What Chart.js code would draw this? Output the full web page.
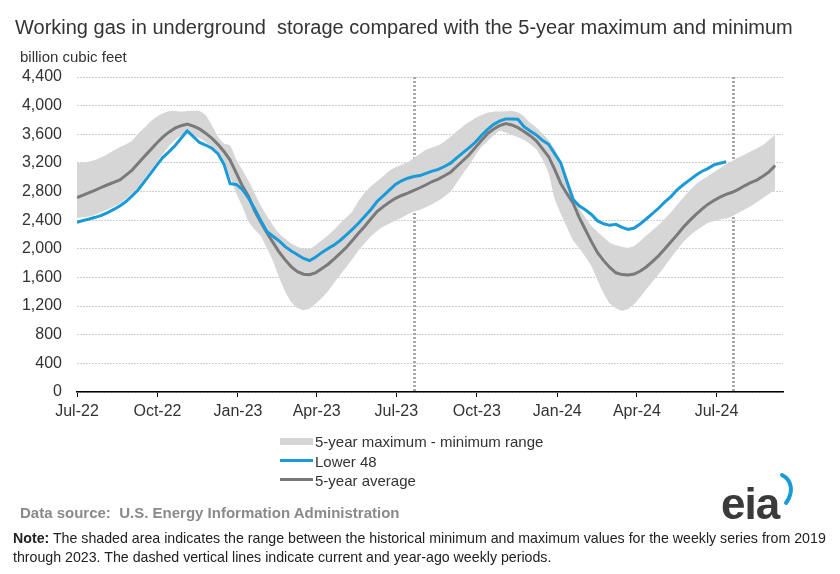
<!DOCTYPE html>
<html>
<head>
<meta charset="utf-8">
<script src="https://cdn.jsdelivr.net/npm/chart.js@4/dist/chart.umd.min.js"></script>
<style>
  body { margin: 0; background: #fff; font-family: Arial, 'Liberation Sans', sans-serif; }
  #wrap { position: relative; width: 840px; height: 574px; overflow: hidden; }
  #grafico { position: absolute; left: 0; top: 0; }
  .txt { position: absolute; line-height: 1; white-space: nowrap; }
  #titulo { left: 15px; top: 16.5px; font-size: 20px; color: #333; }
  #unidad { left: 20px; top: 49px; font-size: 15px; color: #333; }
  .ley { position: absolute; left: 280px; height: 20px; }
  .ley span { position: absolute; left: 35px; top: 0; font-size: 15px; line-height: 1; color: #333; white-space: nowrap; }
  .ley i { position: absolute; left: 0; width: 33px; }
  #fuente { left: 20px; top: 505px; font-size: 15px; font-weight: bold; color: #8a8a8a; }
  #nota { left: 13px; top: 529px; font-size: 14.2px; color: #222; line-height: 19px; }
  #logo { left: 721px; top: 482px; font-size: 44px; font-weight: bold; color: #3a3a3a; letter-spacing: -1px; }
</style>
</head>
<body>
<div id="wrap">
  <canvas id="grafico" width="840" height="574"></canvas>
  <div class="txt" id="titulo">Working gas in underground&nbsp; storage compared with the 5-year maximum and minimum</div>
  <div class="txt" id="unidad">billion cubic feet</div>
  <div class="ley" style="top:434px"><i style="top:4px;height:7px;background:#d6d6d6"></i><span>5-year maximum - minimum range</span></div>
  <div class="ley" style="top:454px"><i style="top:5px;height:3px;background:#1a9bd7"></i><span>Lower 48</span></div>
  <div class="ley" style="top:473px"><i style="top:5px;height:3px;background:#7a7a7a"></i><span>5-year average</span></div>
  <div class="txt" id="fuente">Data source:&nbsp; U.S. Energy Information Administration</div>
  <div class="txt" id="nota"><b>Note:</b> The shaded area indicates the range between the historical minimum and maximum values for the weekly series from 2019<br>through 2023. The dashed vertical lines indicate current and year-ago weekly periods.</div>
  <div class="txt" id="logo">eia</div>
  <svg style="position:absolute;left:772px;top:472px" width="30" height="34"><path d="M10 3 C 20 8, 22 20, 14 31" stroke="#1a9bd7" stroke-width="4" fill="none" stroke-linecap="round"/></svg>
</div>
<script>
// semanas desde el viernes 1 de julio de 2022 (x = dias)
const lower48 = [2372, 2395, 2416, 2440, 2467, 2505, 2550, 2600, 2660, 2740,
  2825, 2940, 3050, 3165, 3275, 3355, 3440, 3545, 3647, 3567,
  3485, 3450, 3405, 3330, 3180, 2910, 2900, 2830, 2710, 2560,
  2395, 2242, 2175, 2110, 2030, 1970, 1917, 1865, 1835, 1885,
  1950, 2005, 2055, 2120, 2195, 2275, 2360, 2455, 2550, 2661,
  2740, 2820, 2900, 2950, 2986, 3010, 3023, 3055, 3085, 3110,
  3150, 3196, 3270, 3340, 3410, 3485, 3580, 3665, 3735, 3785,
  3814, 3814, 3810, 3705, 3645, 3590, 3515, 3461, 3330, 3200,
  2940, 2690, 2600, 2545, 2480, 2390, 2350, 2328, 2342, 2300,
  2272, 2290, 2350, 2420, 2495, 2570, 2655, 2730, 2824, 2895,
  2960, 3025, 3080, 3120, 3172, 3195, 3215]
const avg5 = [2717, 2750, 2786, 2820, 2860, 2895, 2928, 2962, 3030, 3100,
  3195, 3290, 3382, 3475, 3560, 3630, 3685, 3720, 3744, 3715,
  3675, 3615, 3545, 3460, 3360, 3240, 3060, 2880, 2735, 2530,
  2375, 2225, 2090, 1955, 1845, 1748, 1680, 1645, 1638, 1668,
  1725, 1785, 1860, 1940, 2022, 2120, 2220, 2315, 2420, 2521,
  2590, 2650, 2705, 2745, 2777, 2815, 2853, 2895, 2940, 2975,
  3020, 3070, 3150, 3230, 3310, 3410, 3510, 3605, 3670, 3720,
  3750, 3730, 3692, 3640, 3580, 3510, 3400, 3290, 3110, 2910,
  2770, 2640, 2440, 2270, 2100, 1945, 1835, 1740, 1665, 1640,
  1636, 1648, 1690, 1750, 1825, 1905, 2000, 2100, 2196, 2300,
  2390, 2475, 2550, 2620, 2675, 2722, 2760, 2790, 2830, 2880,
  2925, 2960, 3015, 3075, 3165]
const max5 = [3196, 3205, 3218, 3245, 3280, 3325, 3375, 3420, 3460, 3510,
  3610, 3690, 3777, 3845, 3890, 3920, 3925, 3915, 3925, 3930,
  3926, 3870, 3730, 3570, 3470, 3442, 3250, 3100, 2950, 2780,
  2605, 2460, 2330, 2215, 2140, 2075, 2030, 2005, 2000, 2055,
  2120, 2190, 2270, 2358, 2440, 2530, 2670, 2785, 2875, 2945,
  3015, 3090, 3140, 3175, 3210, 3270, 3328, 3385, 3415, 3445,
  3500, 3567, 3640, 3710, 3770, 3825, 3865, 3900, 3916, 3916,
  3920, 3925, 3905, 3850, 3760, 3695, 3610, 3520, 3390, 3200,
  3000, 2780, 2570, 2440, 2320, 2240, 2160, 2085, 2050, 2030,
  2015, 2040, 2110, 2190, 2260, 2335, 2420, 2510, 2614, 2715,
  2810, 2895, 2960, 3015, 3070, 3125, 3180, 3225, 3275, 3315,
  3360, 3400, 3450, 3520, 3591]
const min5 = [2430, 2440, 2450, 2480, 2515, 2550, 2590, 2635, 2700, 2775,
  2860, 2980, 3090, 3210, 3325, 3430, 3520, 3580, 3614, 3585,
  3545, 3490, 3425, 3345, 3210, 3000, 2780, 2590, 2380, 2270,
  2180, 2010, 1830, 1600, 1400, 1255, 1175, 1145, 1165, 1235,
  1315, 1410, 1525, 1638, 1745, 1860, 1980, 2080, 2172, 2250,
  2310, 2350, 2395, 2435, 2480, 2520, 2545, 2580, 2625, 2670,
  2730, 2800, 2920, 3050, 3165, 3300, 3420, 3500, 3580, 3650,
  3625, 3590, 3560, 3520, 3460, 3390, 3250, 3060, 2700, 2490,
  2300, 2120, 2010, 1890, 1760, 1560, 1380, 1235, 1170, 1135,
  1160, 1230, 1330, 1440, 1545, 1645, 1760, 1875, 1986, 2095,
  2180, 2250, 2305, 2360, 2390, 2410, 2425, 2455, 2505, 2550,
  2595, 2650, 2710, 2765, 2824]
const tickLabels = ['Jul-22', 'Oct-22', 'Jan-23', 'Apr-23', 'Jul-23', 'Oct-23', 'Jan-24', 'Apr-24', 'Jul-24']
const tickDays = [0, 92, 184, 274, 365, 457, 549, 640, 731]
const markerDays = [385, 750] // hace un año / semana actual

function semanal (valores) {
  return valores.map((v, i) => ({ x: i * 7, y: v }))
}

const lineasMarca = {
  id: 'lineasMarca',
  beforeDatasetsDraw (chart) {
    const { ctx, chartArea, scales } = chart
    ctx.save()
    ctx.strokeStyle = '#a9a9a9'
    ctx.lineWidth = 3
    ctx.setLineDash([2, 2])
    markerDays.forEach(d => {
      const x = Math.round(scales.x.getPixelForValue(d)) + 0.5
      ctx.beginPath()
      ctx.moveTo(x, chartArea.top)
      ctx.lineTo(x, chartArea.bottom)
      ctx.stroke()
    })
    ctx.restore()
  }
}

const fuente = "Arial, 'Liberation Sans', sans-serif"
const ctx = document.getElementById('grafico').getContext('2d')
new Chart(ctx, {
  type: 'line',
  data: {
    datasets: [
      { label: 'Lower 48', data: semanal(lower48), borderColor: '#1a9bd7', borderWidth: 3, pointRadius: 0, tension: 0, fill: false },
      { label: '5-year average', data: semanal(avg5), borderColor: '#7a7a7a', borderWidth: 3, pointRadius: 0, tension: 0, fill: false },
      { label: 'max', data: semanal(max5), borderWidth: 0, borderColor: 'rgba(0,0,0,0)', backgroundColor: '#d6d6d6', pointRadius: 0, tension: 0.2, fill: '+1' },
      { label: 'min', data: semanal(min5), borderWidth: 0, borderColor: 'rgba(0,0,0,0)', pointRadius: 0, tension: 0.2, fill: false }
    ]
  },
  options: {
    responsive: false,
    animation: false,
    events: [],
    layout: { padding: { top: 77, right: 57, bottom: 152, left: 0 } },
    plugins: { legend: { display: false }, tooltip: { enabled: false } },
    scales: {
      x: {
        type: 'linear',
        min: 0,
        max: 807,
        afterBuildTicks: scale => { scale.ticks = tickDays.map(v => ({ value: v })) },
        afterFit: scale => { scale.height = 30 },
        ticks: {
          autoSkip: false,
          maxRotation: 0,
          padding: 5,
          color: '#333',
          font: { family: fuente, size: 16 },
          callback: v => tickLabels[tickDays.indexOf(v)]
        },
        grid: { drawOnChartArea: false, drawTicks: true, tickLength: 5, color: '#000' },
        border: { display: true, color: '#000', width: 1.5 }
      },
      y: {
        min: 0,
        max: 4400,
        afterFit: scale => { scale.width = 77 },
        ticks: {
          stepSize: 400,
          padding: 15,
          color: '#333',
          font: { family: fuente, size: 16 },
          callback: v => v.toLocaleString('en-US')
        },
        grid: { color: '#cfcfcf', drawTicks: false, lineWidth: 1 },
        border: { display: false, dash: [2, 1] }
      }
    }
  },
  plugins: [lineasMarca]
})
</script>
</body>
</html>
